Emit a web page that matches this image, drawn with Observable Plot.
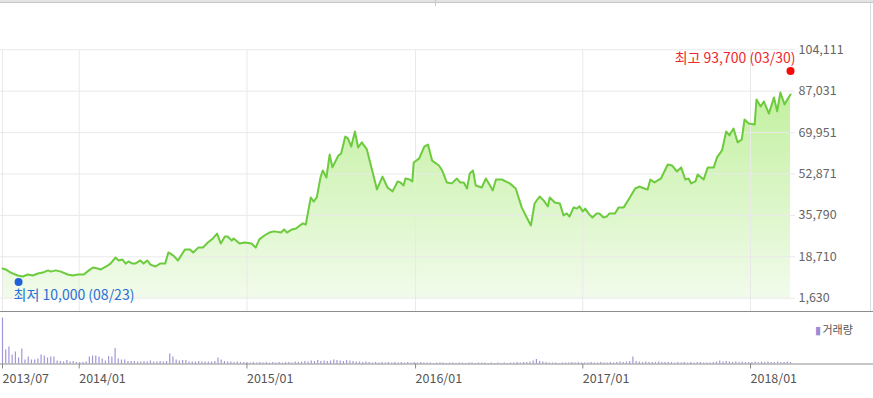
<!DOCTYPE html>
<html><head><meta charset="utf-8">
<script src="https://cdn.jsdelivr.net/npm/d3@7"></script>
<script src="https://cdn.jsdelivr.net/npm/@observablehq/plot@0.6"></script>
<style>
html,body{margin:0;padding:0;background:#fff;}
#wrap{position:relative;width:873px;height:398px;overflow:hidden;font-family:"Noto Sans CJK KR","Noto Sans",sans-serif;}
#top{position:absolute;left:0;top:0;width:873px;height:2px;background:#e3e3e3;border-bottom:1px solid #c6c6c6;}
#tab{position:absolute;left:435px;top:0;width:1px;height:6px;background:#c8c8c8;}
#rb{position:absolute;left:870px;top:3px;width:1px;height:308px;background:#dcdcdc;}
#price{position:absolute;left:0;top:0;}
#vol{position:absolute;left:0;top:310px;}
#wrap svg{display:block;overflow:visible;}
</style></head><body>
<div id="wrap"><div id="price"></div><div id="vol"></div><div id="top"></div><div id="tab"></div><div id="rb"></div></div>
<script>
const priceDates = [
"2013-07-19","2013-07-26","2013-08-06","2013-08-21","2013-09-01","2013-09-12","2013-09-23","2013-10-04","2013-10-15","2013-10-26",
"2013-11-01","2013-11-12","2013-11-23","2013-12-08","2013-12-19","2013-12-30","2014-01-12","2014-01-23","2014-02-01","2014-02-11",
"2014-02-18","2014-03-05","2014-03-11","2014-03-22","2014-03-29","2014-04-06","2014-04-13","2014-04-19","2014-04-28","2014-05-04",
"2014-05-15","2014-05-22","2014-05-30","2014-06-06","2014-06-17","2014-06-27","2014-07-08","2014-07-15","2014-07-26","2014-08-05",
"2014-08-20","2014-08-31","2014-09-07","2014-09-18","2014-09-28","2014-10-09","2014-10-20","2014-10-29","2014-11-06","2014-11-15",
"2014-11-21","2014-11-30","2014-12-04","2014-12-17","2014-12-28","2015-01-12","2015-01-21","2015-01-29","2015-02-09","2015-02-20",
"2015-03-02","2015-03-17","2015-03-24","2015-03-30","2015-04-10","2015-04-19","2015-04-27","2015-05-04","2015-05-10","2015-05-21",
"2015-05-27","2015-06-03","2015-06-11","2015-06-16","2015-06-24","2015-07-01","2015-07-07","2015-07-20","2015-07-26","2015-08-04",
"2015-08-10","2015-08-17","2015-08-25","2015-09-01","2015-09-09","2015-09-20","2015-10-01","2015-10-12","2015-10-24","2015-11-04",
"2015-11-15","2015-11-26","2015-12-02","2015-12-09","2015-12-13","2015-12-22","2015-12-28","2015-12-31","2016-01-12","2016-01-23",
"2016-01-31","2016-02-09","2016-02-24","2016-03-02","2016-03-12","2016-03-23","2016-04-03","2016-04-10","2016-04-18","2016-04-25",
"2016-05-01","2016-05-08","2016-05-14","2016-05-27","2016-06-05","2016-06-14","2016-06-20","2016-06-27","2016-07-10","2016-07-27",
"2016-08-09","2016-08-22","2016-09-02","2016-09-11","2016-09-19","2016-09-30","2016-10-09","2016-10-18","2016-10-22","2016-11-02",
"2016-11-13","2016-11-21","2016-11-28","2016-12-04","2016-12-13","2016-12-20","2016-12-26","2017-01-02","2017-01-07","2017-01-16",
"2017-01-23","2017-02-01","2017-02-07","2017-02-16","2017-02-23","2017-03-01","2017-03-13","2017-03-21","2017-04-01","2017-04-13",
"2017-04-26","2017-05-05","2017-05-16","2017-05-23","2017-05-29","2017-06-07","2017-06-14","2017-06-21","2017-07-06","2017-07-15",
"2017-07-26","2017-08-04","2017-08-13","2017-08-20","2017-08-26","2017-09-04","2017-09-09","2017-09-22","2017-10-01","2017-10-14",
"2017-10-21","2017-11-01","2017-11-10","2017-11-17","2017-11-26","2017-12-05","2017-12-14","2017-12-20","2017-12-29","2018-01-11",
"2018-01-15","2018-01-24","2018-01-31","2018-02-11","2018-02-22","2018-03-01","2018-03-08","2018-03-17","2018-03-30"];
const priceValues = [
13900,13500,12200,11000,10600,11400,11000,11800,12200,13100,
12600,13100,12600,11400,11000,11400,11400,13100,14300,13900,
13500,15100,15900,18400,17200,17600,15900,16800,15900,15900,
17200,15900,17200,15500,14700,15900,15900,20500,19200,17200,
21700,21700,20500,22500,22500,24600,26300,28300,24200,27100,
27100,25400,26300,24200,24600,24200,22500,25900,27500,28700,
29200,28700,30000,28700,30000,30400,31600,32500,32000,43200,
41500,43200,51400,54300,51400,60900,55600,60500,61300,68300,
67500,64200,70400,63800,65900,63000,54700,46500,51800,47300,
45700,49800,49400,48100,51000,50600,49800,57600,59300,64200,
65000,58400,56400,54300,49400,49000,51000,49400,49400,46900,
53100,54300,48100,47300,51000,48100,46100,50600,50600,49000,
46900,39100,34900,31600,40700,43600,41900,39500,43200,41100,
40700,35800,36600,35300,39100,38600,39500,37400,38600,36200,
34900,36600,36600,34900,35300,36600,36600,39100,39100,42800,
46900,47700,46900,46500,50600,49400,50200,51000,56800,56400,
53900,55600,50600,51000,49000,49800,52700,50600,55600,55600,
59700,62600,70400,68800,71600,65900,67100,75400,73700,73300,
83600,80700,82800,77800,84400,78700,86500,81600,85700];

const volumeDates = [
"2013-07-19","2013-07-26","2013-08-02","2013-08-09","2013-08-16","2013-08-23","2013-08-30","2013-09-06","2013-09-13","2013-09-20","2013-09-27","2013-10-04","2013-10-11","2013-10-18","2013-10-25","2013-11-01","2013-11-08","2013-11-15","2013-11-22","2013-11-29","2013-12-06","2013-12-13","2013-12-20","2013-12-27",
"2014-01-03","2014-01-10","2014-01-17","2014-01-24","2014-01-31","2014-02-07","2014-02-14","2014-02-21","2014-02-28","2014-03-07","2014-03-14","2014-03-21","2014-03-28","2014-04-04","2014-04-11","2014-04-18","2014-04-25","2014-05-02","2014-05-09","2014-05-16","2014-05-23","2014-05-30","2014-06-06","2014-06-13","2014-06-20","2014-06-27","2014-07-04","2014-07-11","2014-07-18","2014-07-25","2014-08-01","2014-08-08","2014-08-15","2014-08-22","2014-08-29","2014-09-05","2014-09-12","2014-09-19","2014-09-26","2014-10-03","2014-10-10","2014-10-17","2014-10-24","2014-10-31","2014-11-07","2014-11-14","2014-11-21","2014-11-28","2014-12-05","2014-12-12","2014-12-19","2014-12-26",
"2015-01-02","2015-01-09","2015-01-16","2015-01-23","2015-01-30","2015-02-06","2015-02-13","2015-02-20","2015-02-27","2015-03-06","2015-03-13","2015-03-20","2015-03-27","2015-04-03","2015-04-10","2015-04-17","2015-04-24","2015-05-01","2015-05-08","2015-05-15","2015-05-22","2015-05-29","2015-06-05","2015-06-12","2015-06-19","2015-06-26","2015-07-03","2015-07-10","2015-07-17","2015-07-24","2015-07-31","2015-08-07","2015-08-14","2015-08-21","2015-08-28","2015-09-04","2015-09-11","2015-09-18","2015-09-25","2015-10-02","2015-10-09","2015-10-16","2015-10-23","2015-10-30","2015-11-06","2015-11-13","2015-11-20","2015-11-27","2015-12-04","2015-12-11","2015-12-18","2015-12-25",
"2016-01-01","2016-01-08","2016-01-15","2016-01-22","2016-01-29","2016-02-05","2016-02-12","2016-02-19","2016-02-26","2016-03-04","2016-03-11","2016-03-18","2016-03-25","2016-04-01","2016-04-08","2016-04-15","2016-04-22","2016-04-29","2016-05-06","2016-05-13","2016-05-20","2016-05-27","2016-06-03","2016-06-10","2016-06-17","2016-06-24","2016-07-01","2016-07-08","2016-07-15","2016-07-22","2016-07-29","2016-08-05","2016-08-12","2016-08-19","2016-08-26","2016-09-02","2016-09-09","2016-09-16","2016-09-23","2016-09-30","2016-10-07","2016-10-14","2016-10-21","2016-10-28","2016-11-04","2016-11-11","2016-11-18","2016-11-25","2016-12-02","2016-12-09","2016-12-16","2016-12-23","2016-12-30",
"2017-01-06","2017-01-13","2017-01-20","2017-01-27","2017-02-03","2017-02-10","2017-02-17","2017-02-24","2017-03-03","2017-03-10","2017-03-17","2017-03-24","2017-03-31","2017-04-07","2017-04-14","2017-04-21","2017-04-28","2017-05-05","2017-05-12","2017-05-19","2017-05-26","2017-06-02","2017-06-09","2017-06-16","2017-06-23","2017-06-30","2017-07-07","2017-07-14","2017-07-21","2017-07-28","2017-08-04","2017-08-11","2017-08-18","2017-08-25","2017-09-01","2017-09-08","2017-09-15","2017-09-22","2017-09-29","2017-10-06","2017-10-13","2017-10-20","2017-10-27","2017-11-03","2017-11-10","2017-11-17","2017-11-24","2017-12-01","2017-12-08","2017-12-15","2017-12-22","2017-12-29",
"2018-01-05","2018-01-12","2018-01-19","2018-01-26","2018-02-02","2018-02-09","2018-02-16","2018-02-23","2018-03-02","2018-03-09","2018-03-16","2018-03-23","2018-03-30"];
const volumeValues = [
46,14,17,9,12,6,15,4,7,4,4,5,9,8,6,7,7,3,2.5,2,3.5,2,2.5,1.5,
1.5,1.5,2,7,8, 8,7,5,3, 7.5,7,15.5,5, 4,4,2.5,2.5, 2.5,2,2,2.5,2, 3,2,2,2.5, 2,2.5,10,7, 4,3,3.5,3.5,2, 2,2,2.5,2, 2,2,2,2.5,6, 4,2.5,2,2, 1.5,2,1.5,1.5,
1.5,1,1.5,1,1.5, 1,1.5,1,1.5, 1,1.5,1,1.5, 1.5,1,2,1.5, 2,2.5,2,3,2.5, 3.5,2.5,3,2.5, 3,4,3.5,3,2.5, 3.5,3,2.5,2, 2,1.5,2,1.5, 1,1.5,1,1.5,1, 1.5,1,1.5,1, 1.5,1,1.5,1,
1.5,1,1.5,1,1, 1,0.5,1,1, 1,0.5,1,1, 0.5,1,1,0.5,1, 1,0.5,1,1, 1,0.5,1,0.5, 1,0.5,1,0.5,1, 1,1.5,1,1.5, 1.5,2,3,4.5,2.5, 2,1.5,1,1, 1,0.5,1,1, 1,1.5,1,1.5,1,
1,1,1.5,1, 1,1.5,1,1, 1.5,1,1.5,2,1.5, 2,2.5,7,2.5, 2,1.5,2,1.5, 1.5,1.5,2,1.5,1.5, 1.5,1.5,1,1.5, 1,1.5,1,1.5, 1,1.5,1.5,1,1, 1,1.5,2,3, 2,2.5,2,1.5, 2,1.5,2,1.5,1.5,
1.5,2,1.5,2, 1.5,2,1.5,1.5, 2,1.5,1.5,2,1.5];

const yTicks = [1630, 18710, 35790, 52871, 69951, 87031, 104111];
const xTicks = ["2013-07-19","2014-01-02","2015-01-02","2016-01-04","2017-01-02","2018-01-02"];
const highPoint = {date: "2018-03-30", value: 93700, label: "최고 93,700 (03/30)"};
const lowPoint = {date: "2013-08-23", value: 10000, label: "최저 10,000 (08/23)"};
const volumeLabel = "거래량";

const parse = d3.utcParse("%Y-%m-%d");
const price = priceDates.map((d, i) => ({date: parse(d), value: priceValues[i]}));
const volume = volumeDates.map((d, i) => ({date: parse(d), value: volumeValues[i]}));
const high = [{...highPoint, date: parse(highPoint.date)}];
const low = [{...lowPoint, date: parse(lowPoint.date)}];
const xDomain = [parse(priceDates[0]), parse(priceDates[priceDates.length - 1])];
const tickDates = xTicks.map(parse);
const FONT = '"Noto Sans CJK KR","Noto Sans",sans-serif';

const gradient = () => {
  const defs = d3.create("svg:defs");
  const g = defs.append("linearGradient").attr("id", "areaGrad")
    .attr("gradientUnits", "userSpaceOnUse").attr("x1", 0).attr("x2", 0).attr("y1", 70).attr("y2", 300);
  g.append("stop").attr("offset", "0%").attr("stop-color", "#bdef97");
  g.append("stop").attr("offset", "100%").attr("stop-color", "#f2fbec");
  return defs.node();
};

const pricePlot = Plot.plot({
  width: 873, height: 311,
  marginTop: 49.3, marginBottom: 13.3, marginLeft: 2, marginRight: 83,
  style: {fontFamily: FONT, fontSize: "12px", background: "transparent", overflow: "visible"},
  x: {type: "utc", domain: xDomain, axis: null},
  y: {domain: [1630, 104111], axis: null},
  marks: [
    gradient,
    Plot.areaY(price, {x: "date", y1: 1630, y2: "value", fill: "url(#areaGrad)"}),
    Plot.ruleY(yTicks, {stroke: "#e9e9e9", insetLeft: -2, insetRight: -5}),
    Plot.ruleX(tickDates, {stroke: "#e9e9e9", insetBottom: -13}),
    Plot.lineY(price, {x: "date", y: "value", stroke: "#6dcb3e", strokeWidth: 2}),
    Plot.axisY(yTicks, {anchor: "right", label: null, tickSize: 0, tickPadding: 8, tickFormat: d3.format(","), fill: "#666", fontSize: 12.5}),
    Plot.dot(high, {x: "date", y: "value", r: 4, fill: "#f50a0a", stroke: null, dy: -4}),
    Plot.text(high, {x: "date", y: "value", text: "label", textAnchor: "end", dx: 5, dy: -17, fill: "#f0282d", fontSize: 14}),
    Plot.dot(low, {x: "date", y: "value", r: 4, fill: "#1d62d8", stroke: null, dy: 4}),
    Plot.text(low, {x: "date", y: "value", text: "label", textAnchor: "start", dx: -5, dy: 18, fill: "#2a6fd6", fontSize: 14})
  ]
});
document.getElementById("price").appendChild(pricePlot);

const volPlot = Plot.plot({
  width: 873, height: 88,
  marginTop: 1, marginBottom: 34.5, marginLeft: 2, marginRight: 83,
  style: {fontFamily: FONT, fontSize: "12px", background: "transparent", overflow: "visible"},
  x: {type: "utc", domain: xDomain},
  y: {domain: [0, 52.5], axis: null},
  marks: [
    Plot.ruleY([52.5], {stroke: "#8d8d8d", insetLeft: -2, insetRight: -83}),
    Plot.ruleX(volume, {x: "date", y: "value", stroke: "#a395d8", strokeWidth: 1.2}),
    Plot.ruleY([0], {stroke: "#8d8d8d", insetLeft: -2, insetRight: -83}),
    Plot.axisX(tickDates, {anchor: "bottom", label: null, tickSize: 5, tickPadding: 5, tickFormat: d3.utcFormat("%Y/%m"), textAnchor: "start", stroke: "#888", fill: "#555", fontSize: 12.5}),
    Plot.text(["▮"], {frameAnchor: "top-right", textAnchor: "start", dx: 24, dy: 15, fill: "#9b8cd4", fontSize: 11}),
    Plot.text([volumeLabel], {frameAnchor: "top-right", textAnchor: "start", dx: 32, dy: 15, fill: "#555", fontSize: 11})
  ]
});
document.getElementById("vol").appendChild(volPlot);
</script>
</body></html>
